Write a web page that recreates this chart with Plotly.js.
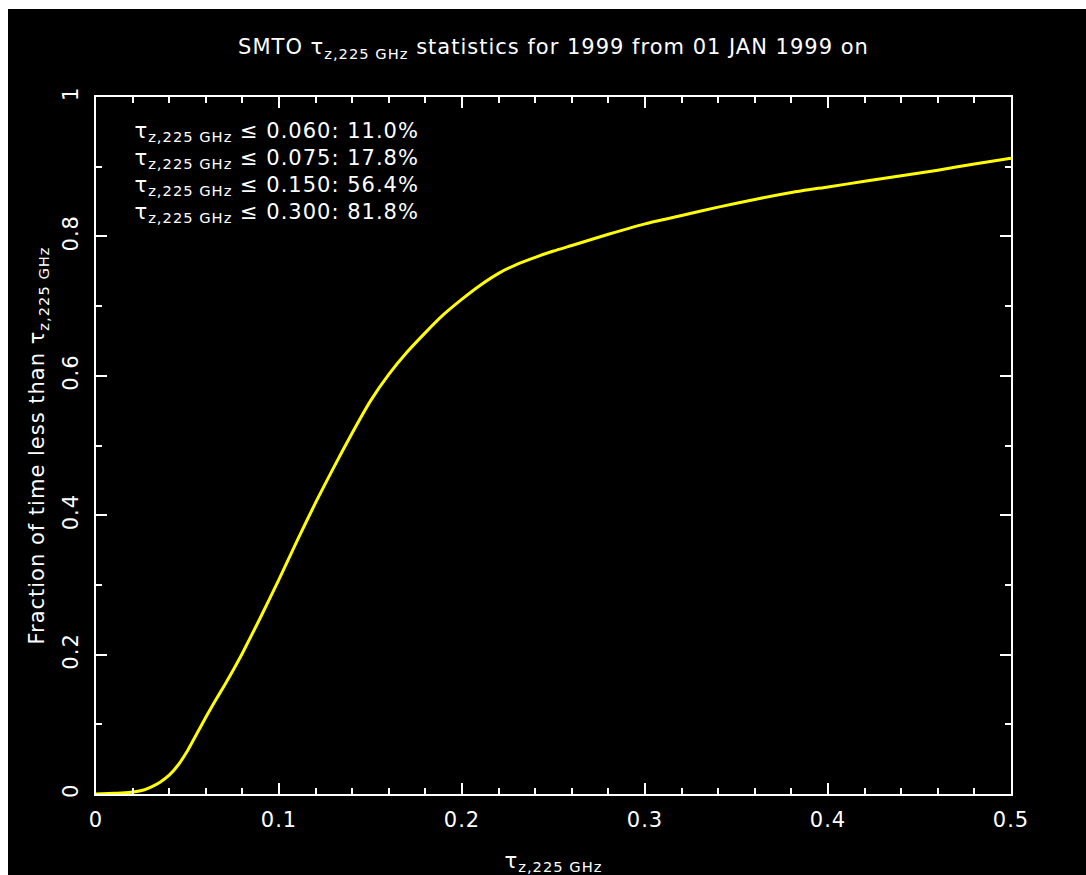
<!DOCTYPE html>
<html>
<head>
<meta charset="utf-8">
<script src="https://cdn.plot.ly/plotly-3.0.1.min.js"></script>
<style>
  html, body { margin: 0; padding: 0; background: #ffffff; }
  #chart { position: absolute; left: 8px; top: 9px; width: 1078px; height: 866px; }
  #chart text { letter-spacing: 1px; }
</style>
</head>
<body>
<div id="chart"></div>
<script>
// Cumulative distribution of 225 GHz zenith opacity, SMTO 1999
const tau = [0, 0.01, 0.018, 0.025, 0.03, 0.035, 0.04, 0.045, 0.05, 0.055,
             0.06, 0.065, 0.07, 0.075, 0.08, 0.09, 0.1, 0.11, 0.12, 0.13,
             0.14, 0.15, 0.16, 0.17, 0.18, 0.19, 0.2, 0.21, 0.22, 0.23,
             0.24, 0.25, 0.26, 0.28, 0.3, 0.32, 0.34, 0.36, 0.38, 0.4,
             0.42, 0.44, 0.46, 0.48, 0.5];
const fraction = [0, 0.001, 0.002, 0.005, 0.010, 0.017, 0.027, 0.042, 0.062, 0.086,
                  0.110, 0.133, 0.155, 0.178, 0.202, 0.254, 0.308, 0.364, 0.418, 0.469,
                  0.518, 0.564, 0.602, 0.634, 0.662, 0.688, 0.710, 0.730, 0.747, 0.760,
                  0.770, 0.779, 0.787, 0.803, 0.818, 0.830, 0.842, 0.853, 0.863, 0.871,
                  0.879, 0.887, 0.895, 0.904, 0.912];

// Threshold summary lines
const thresholds = ['0.060', '0.075', '0.150', '0.300'];
const percents = ['11.0%', '17.8%', '56.4%', '81.8%'];

const xTickVals = [0, 0.1, 0.2, 0.3, 0.4, 0.5];
const xTickText = ['0', '0.1', '0.2', '0.3', '0.4', '0.5'];
const yTickVals = [0, 0.2, 0.4, 0.6, 0.8, 1];
const yTickText = ['0', '0.2', '0.4', '0.6', '0.8', '1'];

const TAU = 'τ<sub>z,225 GHz</sub>';
const FONT = 'DejaVu Sans, sans-serif';
const FS = 21;

const trace = {
  x: tau,
  y: fraction,
  type: 'scatter',
  mode: 'lines',
  line: { color: '#ffff00', width: 3, shape: 'spline', smoothing: 0.6 },
  hoverinfo: 'skip'
};

const annotations = thresholds.map((t, i) => ({
  xref: 'paper', yref: 'paper',
  x: 0.054, y: 0.95 - i * 0.0388,
  xanchor: 'left', yanchor: 'middle',
  showarrow: false,
  text: TAU + ' ≤ ' + t + ': ' + percents[i],
  font: { family: FONT, size: FS, color: '#ffffff' }
}));

const axisCommon = {
  showgrid: false,
  zeroline: false,
  showline: true,
  linecolor: '#ffffff',
  linewidth: 2,
  mirror: 'allticks',
  ticks: 'inside',
  tickcolor: '#ffffff',
  tickwidth: 2,
  ticklen: 11,
  tickfont: { family: FONT, size: FS, color: '#ffffff' },
  fixedrange: true
};

const layout = {
  width: 1078,
  height: 866,
  paper_bgcolor: '#000000',
  plot_bgcolor: '#000000',
  margin: { l: 88, r: 75, t: 88, b: 81 },
  showlegend: false,
  title: {
    text: 'SMTO ' + TAU + ' statistics for 1999 from 01 JAN 1999 on',
    font: { family: FONT, size: FS, color: '#ffffff' },
    x: 0.5, xref: 'paper', xanchor: 'center',
    y: 1 - 38 / 866, yref: 'container', yanchor: 'middle'
  },
  xaxis: Object.assign({}, axisCommon, {
    range: [0, 0.5],
    tickvals: xTickVals,
    ticktext: xTickText,
    ticklabelstandoff: 6,
    minor: { dtick: 0.02, tick0: 0, ticks: 'inside', ticklen: 6, tickcolor: '#ffffff', tickwidth: 2 },
    title: { text: TAU, font: { family: FONT, size: FS, color: '#ffffff' }, standoff: 24 }
  }),
  yaxis: Object.assign({}, axisCommon, {
    range: [0, 1],
    tickvals: yTickVals,
    ticktext: yTickText,
    tickangle: -90,
    ticklabelstandoff: 8,
    minor: { dtick: 0.1, tick0: 0, ticks: 'inside', ticklen: 6, tickcolor: '#ffffff', tickwidth: 2 },
    title: { text: 'Fraction of time less than ' + TAU, font: { family: FONT, size: FS, color: '#ffffff' }, standoff: 8 }
  }),
  annotations: annotations
};

Plotly.newPlot('chart', [trace], layout, { displayModeBar: false, staticPlot: true });
</script>
</body>
</html>
